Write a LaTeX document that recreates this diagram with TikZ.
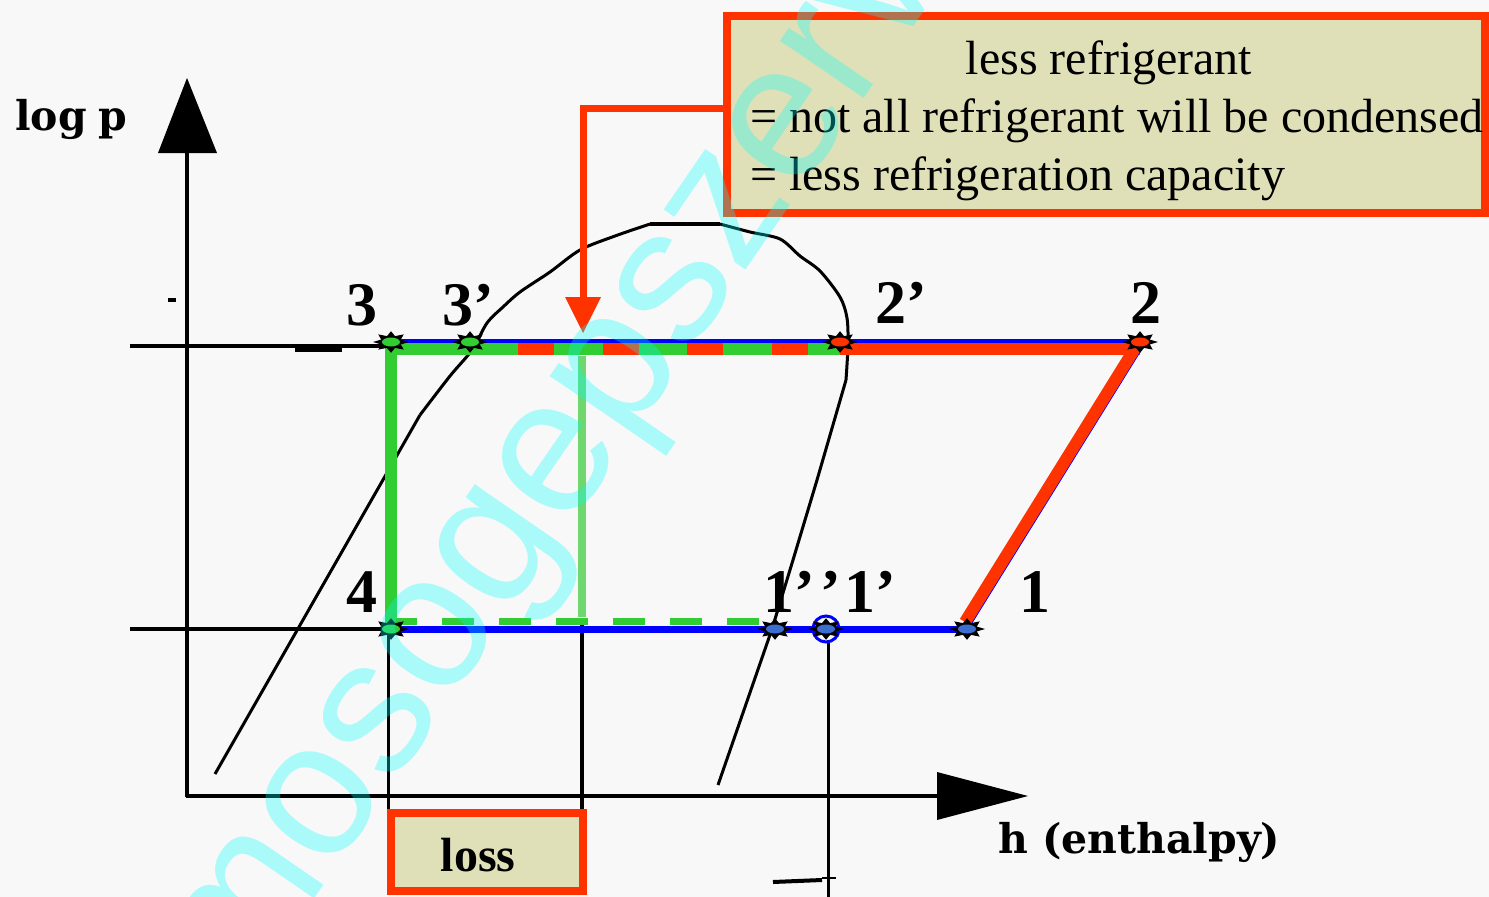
\documentclass[tikz,border=0pt]{standalone}
\usepackage{fontspec}
\setmainfont{Liberation Serif}
\newfontfamily\axisfont{DejaVu Serif}
\newfontfamily\wmfont{Liberation Sans}
\usetikzlibrary{shapes.geometric}
\definecolor{cred}{RGB}{255,51,0}
\definecolor{cgreen}{RGB}{50,205,50}
\definecolor{clgreen}{RGB}{110,215,110}
\definecolor{cblue}{RGB}{0,0,255}
\definecolor{cmblue}{RGB}{60,110,210}
\definecolor{cbeige}{RGB}{224,224,184}
\definecolor{cbg}{RGB}{248,248,248}
\definecolor{cwm}{RGB}{0,255,255}
\newcommand{\ptmark}[3]{%
  \begin{scope}[shift={#2}]
    \node[star, star points=8, star point ratio=1.7, minimum size=36pt, inner sep=0pt,
          fill=black, yscale=0.6, transform shape] (#1) at (0,0) {};
    \fill[#3] (0,0) ellipse (9pt and 4.5pt);
  \end{scope}}
\begin{document}
\begin{tikzpicture}[x=1pt,y=-1pt,
  dome/.style={line width=3pt, black},
  axisline/.style={line width=3.5pt, black},
  refline/.style={line width=4pt, black},
  thinv/.style={line width=3pt, black},
  bandgreen/.style={line width=12pt, cgreen},
  bandred/.style={line width=12pt, cred},
  cycleblue/.style={line width=7pt, cblue},
  hiblue/.style={line width=4pt, cblue},
  callout/.style={line width=7pt, cred},
  notebox/.style={fill=cbeige, draw=cred, line width=8pt},
  ptlabel/.style={anchor=base west, inner sep=0pt, font=\fontsize{62}{62}\selectfont\bfseries},
  axlabel/.style={anchor=base west, inner sep=0pt, font=\axisfont\bfseries\fontsize{41}{41}\selectfont},
  boxtext/.style={inner sep=0pt, font=\fontsize{48}{58}\selectfont}]
\useasboundingbox (0,0) rectangle (1489,897);
\clip (0,0) rectangle (1489,897);
\fill[cbg] (0,0) rectangle (1489,897);

% point coordinates
\coordinate (c3) at (391,342);
\coordinate (c3p) at (470,342);
\coordinate (c2p) at (840,342);
\coordinate (c2) at (1140,342);
\coordinate (c4) at (391,629);
\coordinate (c1pp) at (775,629);
\coordinate (c1p) at (826,629);
\coordinate (c1) at (967,629);

% saturation dome
\draw[dome] (215,774) -- (420,415);
\draw[dome] plot[smooth, tension=0.5] coordinates {(420,415) (450,376) (472,350) (487,323) (503,307) (520,292) (550,272) (580,250) (615,236) (650,224)};
\draw[line width=4pt] (650,224) -- (720,224);
\draw[dome] plot[smooth, tension=0.5] coordinates {(720,224) (750,232) (780,239) (800,256) (820,271) (840,297) (847,318) (848,345) (846,380)};
\draw[dome] (846,380) -- (817,480) -- (793,560) -- (772,629) -- (718,785);

% axes
\draw[axisline] (187,797) -- (187,150);
\fill[black] (158,153) -- (217,153) -- (187,78) -- cycle;
\draw[axisline] (186,796) -- (940,796);
\fill[black] (937,772) -- (937,820) -- (1028,796) -- cycle;
\node[axlabel] (ylab) at (15,130) {log\kern-3pt{} p};
\node[axlabel] (xlab) at (998,853) {h (enthalpy)};

% pressure reference lines
\draw[refline] (130,346) -- (388,346);
\draw[line width=7pt] (295,348) -- (342,348);
\draw[refline] (130,629) -- (c4);
\fill[black] (168,298) rectangle (176,302);

% vertical drop lines
\draw[thinv] (388,629) -- (388,813);
\draw[line width=4pt] (582,620) -- (582,813);
\draw[thinv] (828,642) -- (828,897);
\draw[line width=4pt] (773,882) -- (822,880);
\draw[line width=2pt] (822,878) -- (836,878);

% green cycle part
\draw[line width=12pt, cgreen] (391,343) -- (391,624);
\draw[line width=7pt, cgreen, dash pattern=on 32pt off 25pt] (385,621) -- (765,621);
\draw[line width=8pt, clgreen] (582,356) -- (582,617);
\draw[bandgreen] (385,349) -- (840,349);
\draw[bandred, dash pattern=on 36pt off 48.5pt] (518,349) -- (840,349);
\draw[bandred] (840,349) -- (1140,349);

% blue lines
\draw[hiblue] (388,341) -- (1150,341);
\draw[cycleblue] (c4) -- (c1);
\draw[line width=3pt, cblue] (c1) -- (1145,342);
\draw[line width=12pt, cred] (965,622) -- (1137,345);
\draw[line width=3pt, cblue] (c1p) circle (13pt);

% markers
\ptmark{p3}{(c3)}{cgreen}
\ptmark{p3p}{(c3p)}{cgreen}
\ptmark{p2p}{(c2p)}{cred}
\ptmark{p2}{(c2)}{cred}
\ptmark{p4}{(c4)}{cgreen}
\ptmark{p1pp}{(c1pp)}{cmblue}
\ptmark{p1p}{(c1p)}{cmblue}
\ptmark{p1}{(c1)}{cmblue}

% point labels
\node[ptlabel] (l3) at (346,325) {3};
\node[ptlabel] (l3p) at (442,325) {3’};
\node[ptlabel] (l2p) at (875,323) {2’};
\node[ptlabel] (l2) at (1130,323) {2};
\node[ptlabel] (l4) at (346,612) {4};
\node[ptlabel] (l1pp) at (763,612) {1’\kern6pt’};
\node[ptlabel] (l1p) at (844,612) {1’};
\node[ptlabel] (l1) at (1019,612) {1};

% callout box and arrow
\draw[notebox] (727,16) rectangle (1485,213);
\coordinate (boxl) at (727,108);
\coordinate (bend) at (583,108);
\coordinate (tip) at (583,300);
\draw[callout] (boxl) -- (bend) -- (tip);
\fill[cred] (565,297) -- (601,297) -- (583,333) -- cycle;
\node[boxtext, anchor=base] (t1) at (1109,74) {less refrigerant};
\node[boxtext, anchor=base west] (t2) at (750,132) {= not all refrigerant will be condensed};
\node[boxtext, anchor=base west] (t3) at (750,190) {= less refrigeration capacity};

% loss box
\draw[notebox] (391,813) rectangle (583,891);
\node[boxtext, anchor=base, font=\fontsize{48}{58}\selectfont\bfseries] (loss) at (478,871) {loss};

% watermark
\node[anchor=base west, inner sep=0pt, rotate=55.5, text=cwm, text opacity=0.31,
      font=\wmfont\fontsize{192}{192}\selectfont] (wm) at (240,1007) {mosogepszerviz};
\end{tikzpicture}
\end{document}
